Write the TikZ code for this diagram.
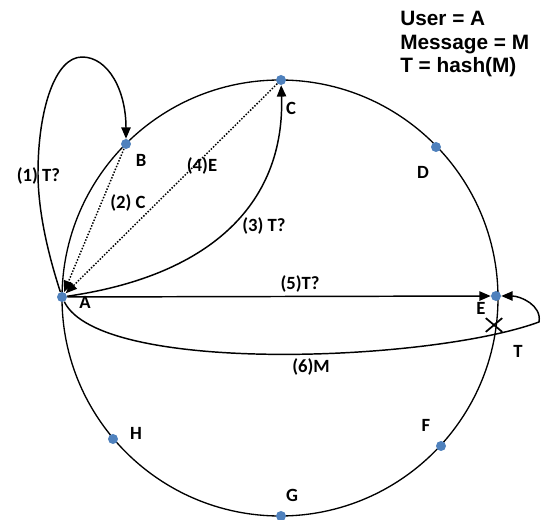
\documentclass[tikz,border=0pt]{standalone}
\usepackage{fontspec}
\setmainfont{Carlito}
\newfontfamily\arialfont{Liberation Sans}
\usetikzlibrary{arrows.meta,shapes.misc}
\definecolor{dotblue}{RGB}{79,129,189}
\begin{document}
\begin{tikzpicture}[x=0.75pt,y=-0.75pt,
  vtx/.style={circle,fill=dotblue,inner sep=0pt,minimum size=7.5pt},
  lab/.style={font=\bfseries\fontsize{14}{16}\selectfont,inner sep=0pt},
  legend/.style={font=\arialfont\bfseries\fontsize{15.6}{18}\selectfont,inner sep=0pt,anchor=base west},
  conn/.style={line width=1.1pt,-{Triangle[length=8.5pt,width=7pt]}},
  dotconn/.style={conn,dash pattern=on 1.1pt off 1.2pt}]
\useasboundingbox (0,0) rectangle (558,520);
\draw[line width=1pt] (280,298) circle[radius=163.5pt];
% points
\node[vtx] (A) at (62,297) {};
\node[vtx] (B) at (126,144) {};
\node[vtx] (C) at (281,80) {};
\node[vtx] (D) at (436,147) {};
\node[vtx] (E) at (496,296) {};
\node[vtx] (F) at (441,446) {};
\node[vtx] (G) at (281,516) {};
\node[vtx] (H) at (113,439) {};
% connectors
\draw[conn] (A) .. controls (50,260) and (38,215) .. (38,173)
  .. controls (38,110) and (55,57) .. (82,57)
  .. controls (108,57) and (126,90) .. (B);
\draw[dotconn] (B) -- (A);
\draw[dotconn] (C) -- (A);
\draw[conn] (A) .. controls (215,275) and (285,200) .. (C);
\draw[conn] (A) -- (E);
\draw[conn] (A) .. controls (100,375) and (430,362) .. (539,322) .. controls (542,305) and (520,296) .. (E);
\node[cross out,draw,line width=1.3pt,minimum width=11pt,minimum height=9pt,inner sep=0pt] (X) at (494,325) {};
% labels
\node[lab] (l1) at (38.5,176) {(1) T?};
\node[lab] (lB) at (141,160) {B};
\node[lab] (l4) at (202,166) {(4)E};
\node[lab] (l2) at (128,203) {(2) C};
\node[lab] (lC) at (291,108) {C};
\node[lab] (l3) at (264,226) {(3) T?};
\node[lab] (lD) at (423,172) {D};
\node[lab] (l5) at (300,284) {(5)T?};
\node[lab] (lA) at (85,302) {A};
\node[lab] (lE) at (481,308) {E};
\node[lab] (lT) at (518,351) {T};
\node[lab] (l6) at (311,367) {(6)M};
\node[lab] (lH) at (136,433) {H};
\node[lab] (lF) at (426,425) {F};
\node[lab] (lG) at (292,495) {G};
% legend
\node[legend] (u) at (400,26) {User = A};
\node[legend] (m) at (400,49.5) {Message = M};
\node[legend] (t) at (400,73) {T = hash(M)};
\end{tikzpicture}
\end{document}
